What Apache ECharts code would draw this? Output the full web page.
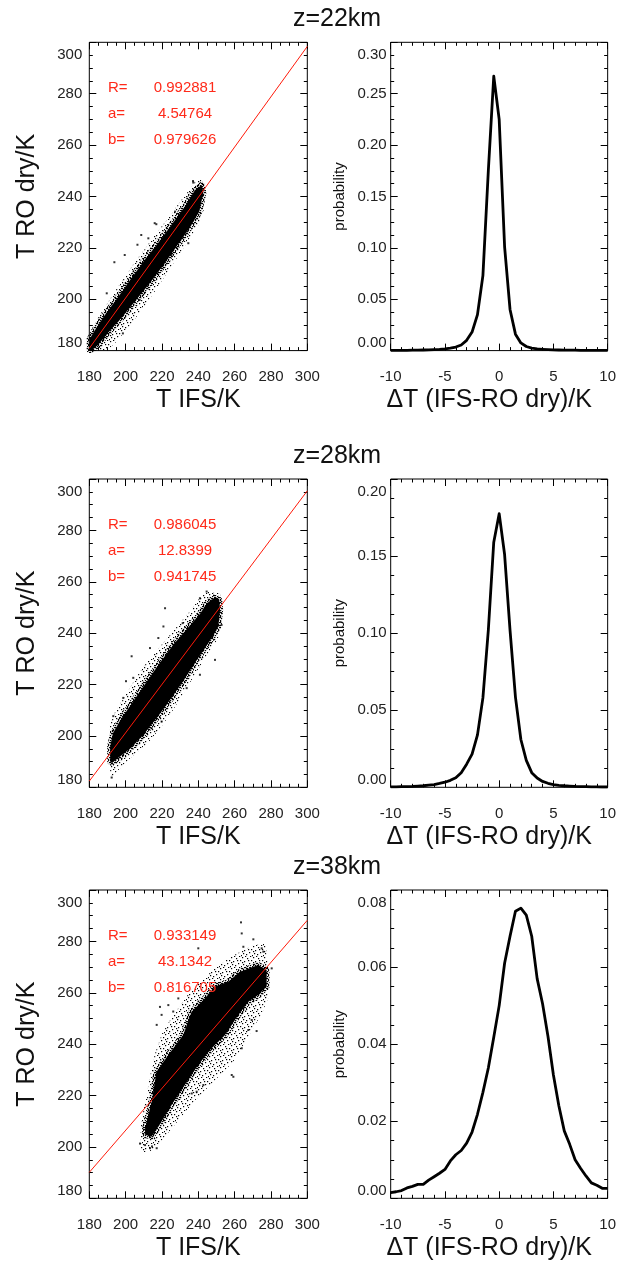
<!DOCTYPE html>
<html><head><meta charset="utf-8">
<script src="https://cdn.jsdelivr.net/npm/echarts@6/dist/echarts.min.js"></script>
<style>html,body{margin:0;padding:0;background:#fff}#c{width:619px;height:1272px}</style>
</head><body><div id="c"></div>
<script>
// ---------------- data ----------------
var heights = ['z=22km', 'z=28km', 'z=38km'];
var fitR = ['0.992881', '0.986045', '0.933149'];
var fitA = ['4.54764', '12.8399', '43.1342'];
var fitB = ['0.979626', '0.941745', '0.816705'];

// regression lines (endpoints)
var fitLine1 = [[180, 180.9], [300, 298.4]];
var fitLine2 = [[180, 182.4], [300, 295.4]];
var fitLine3 = [[180, 190.1], [300, 288.2]];

// dense core outlines of the scatter clouds  [T IFS, T RO dry]
var core1 = [[180.2,184.5],[184,189],[188.5,193.8],[195.8,200.8],[203.1,208.1],[210.5,215.3],[217.8,221.8],[225.2,228.9],[232.5,236],[238.2,242.5],[241.9,244.5],
             [242.8,241.5],[240.5,234],[235,227.5],[228,220.5],[220.5,213],[213,206],[205.5,199.5],[198,193],[190.5,187],[184.5,182],[181.5,180.2],[180.2,180.2]];
var halo1 = [[180.2,187],[185,193],[190,198.5],[195,204],[200,209],[205,214.5],[210,219],[215,224],[220,228.5],[225,233],[230,238],[235,242.5],[238,245.5],[241.5,246.5],
             [243.5,244],[243.5,236],[241,230],[236,224.5],[230,218],[223,210.5],[216,203],[209,196],[202,189.5],[195,183.5],[190,180.2],[180.2,180.2]];
var out1 = [[237.1,246.0],[216.9,229.2],[208.6,225.0],[206.5,221.2],[199.5,217.2],[193.8,214.4],[189.6,202.3],[198.5,186.7],[207.7,199.7],
            [223.3,219.6],[225.2,217.2],[234.5,221.8],[227.2,234.1],[212.5,223.7],[238.0,232.3],[220.6,213.3],[216.0,229.6],[237.2,245.4]];

var core2 = [[191.5,196],[193,201],[197,206],[204.2,213.5],[211.5,221],[218.9,228.5],[226.2,235.5],[233.6,241.5],[240.9,247.5],[244.6,251.5],[249.2,254],[251.5,253],
             [252,249],[251,242.5],[246.4,237],[239.1,229.5],[231.8,221.5],[224.4,214],[217.1,207],[209.8,200.5],[202.4,195],[196,191.5],[192.5,189.5],[191.5,190]];
var halo2 = [[191.5,186],[191.3,204],[194,209],[200,216],[206,223],[212,229],[218,234],[224,239],[230,244],[236,249],[241,254],[245,256],[251,256],[253,254],
             [253,244],[251,238],[246,233],[240,226],[233,218],[226,210],[219,203],[212,197],[205,193],[199,189],[195,186],[193,183]];
var out2 = [[221.7,249.7],[220.8,242.6],[218.0,238.1],[203.3,231.0],[204.2,222.6],[200.2,221.3],[193.2,207.7],[192.3,183.8],[244.6,256.2],
            [249.2,229.6],[240.9,223.8],[233.6,218.6],[219.8,205.6],[214.3,203.0],[240.9,253.6],[252.8,243.2],[198.7,214.8],[213.4,234.2],[231.4,243.9]];

var core3 = [[210.7,207.2],[214.3,217.6],[217.0,229.3],[223.5,235.8],[231.7,243.6],[236.3,252.6],[243.6,257.8],[249.2,262.4],[256.5,264.3],[262.9,268.2],[273.0,270.8],[277.6,268.9],
             [277.6,262.4],[273.0,259.1],[267.5,256.5],[262.0,251.3],[254.7,243.6],[247.3,238.4],[240.0,232.0],[232.7,224.2],[225.3,216.4],[219.8,209.9],[214.3,204.0],[210.7,204.7]];
var halo3 = [[208,200],[208.5,210],[211,218],[213,226],[216,236],[220,244],[225,250],[230,255],[236,261],[242,265],[250,270],[258,274],[266,277],[272,279],[277,279],
             [278.5,270],[278.5,258],[275,252],[270,246],[265,240],[259,233],[252,228],[245,223],[238,218],[231,212],[224,206],[218,201],[213,198],[209,198]];
var out3 = [[263.5,287.4],[263.9,283.1],[264.8,277.9],[274.9,277.3],[275.8,276.0],[280.4,269.5],[269.4,249.4],[267.5,245.5],[263.9,238.4],[258.4,228.0],
            [242.8,224.1],[239.1,221.5],[223.5,255.2],[219.8,251.4],[217.1,247.5],[226.2,252.7],[229.0,257.8],[210.7,200.7],[213.4,199.5],[217.1,199.5],
            [270.3,280.8],[240.0,277.3],[218.9,254.5],[259.3,227.3],[272.1,245.1],[207.9,201.3],[214.5,200.2],[236.4,220.8]];

// probability density of dT (IFS - RO dry)
var dT = [-10,-9.5,-9,-8.5,-8,-7.5,-7,-6.5,-6,-5.5,-5,-4.5,-4,-3.5,-3,-2.5,-2,-1.5,-1,-0.5,0,0.5,1,1.5,2,2.5,3,3.5,4,4.5,5,5.5,6,6.5,7,7.5,8,8.5,9,9.5,10];
var prob1 = [0.0002,0.0002,0.0003,0.0003,0.0004,0.0005,0.0006,0.0007,0.0009,0.0012,0.0017,0.0025,0.0035,0.0055,0.0100,0.0180,0.0350,0.0730,0.1750,0.2670,0.2250,0.1010,0.0400,0.0160,0.0075,0.0040,0.0025,0.0016,0.0012,0.0009,0.0007,0.0006,0.0005,0.0004,0.0004,0.0003,0.0003,0.0002,0.0002,0.0002,0.0002];
var prob2 = [0.0003,0.0003,0.0004,0.0005,0.0006,0.0008,0.0010,0.0014,0.0018,0.0025,0.0033,0.0045,0.0062,0.0095,0.0150,0.0215,0.0340,0.0580,0.1020,0.1590,0.1775,0.1510,0.1020,0.0585,0.0310,0.0175,0.0095,0.0060,0.0038,0.0026,0.0018,0.0013,0.0010,0.0008,0.0006,0.0005,0.0004,0.0003,0.0003,0.0002,0.0002];
var prob3 = [0.0015,0.0017,0.0020,0.0027,0.0031,0.0036,0.0036,0.0047,0.0056,0.0065,0.0075,0.0097,0.0113,0.0124,0.0143,0.0172,0.0218,0.0275,0.0338,0.0418,0.0500,0.0610,0.0680,0.0745,0.0753,0.0735,0.0680,0.0570,0.0505,0.0420,0.0320,0.0240,0.0175,0.0140,0.0100,0.0078,0.0058,0.0040,0.0034,0.0026,0.0026];
var probMax = [0.30, 0.20, 0.08];
var probStep = [0.05, 0.05, 0.02];

// ---------------- chart ----------------
var FONT = "'Liberation Sans', Arial, Helvetica, sans-serif";
var rowTop = [42.3, 479, 890];
var boxH = 308.3;
var leftL = 89.3, leftW = 218, rightL = 390.7, rightW = 218.3;

// speckle textures for the scatter-cloud fringes
function speckle(size, dots) {
  var c = document.createElement('canvas');
  c.width = size; c.height = size;
  var g = c.getContext('2d');
  g.fillStyle = '#000';
  dots.forEach(function (q) { g.fillRect(q[0], q[1], 1.2, 1.2); });
  return c;
}
var sparsePat = speckle(11, [[0,0],[5,1],[9,3],[2,4],[7,6],[4,8],[10,9],[1,7],[8,10],[6,3],[3,10],[0,5]]);
var densePat = speckle(5, [[0,0],[2,1],[4,2],[1,3],[3,4],[0,2],[3,0],[2,3]]);

var grids = [], xAxes = [], yAxes = [], series = [], graphic = [];

function tickCfg(len) { return { show: true, inside: true, length: len, lineStyle: { color: '#000', width: 1 } }; }
function minorCfg(n) { return { show: true, splitNumber: n, length: 3.5, lineStyle: { color: '#000', width: 1 } }; }

function addAxes(gi, xmin, xmax, xint, xminor, ymin, ymax, yint, yminor, ylabFmt, xName, xNamePad, yName, yNameSize, yNameGap, yLabMargin) {
  xAxes.push({ gridIndex: gi, type: 'value', position: 'bottom', min: xmin, max: xmax, interval: xint,
    axisLine: { show: false, onZero: false }, axisTick: tickCfg(7), minorTick: minorCfg(xminor), splitLine: { show: false },
    axisLabel: { fontSize: 15, color: '#222', fontFamily: FONT, margin: 19 },
    name: xName, nameLocation: 'middle', nameGap: 37,
    nameTextStyle: { fontSize: 25, color: '#111', fontFamily: FONT, padding: xNamePad } });
  xAxes.push({ gridIndex: gi, type: 'value', position: 'top', min: xmin, max: xmax, interval: xint,
    axisLine: { show: false, onZero: false }, axisTick: tickCfg(7), minorTick: minorCfg(xminor), splitLine: { show: false },
    axisLabel: { show: false } });
  yAxes.push({ gridIndex: gi, type: 'value', position: 'left', min: ymin, max: ymax, interval: yint,
    axisLine: { show: false, onZero: false }, axisTick: tickCfg(7), minorTick: minorCfg(yminor), splitLine: { show: false },
    axisLabel: { fontSize: 15, color: '#222', fontFamily: FONT, margin: yLabMargin, formatter: ylabFmt, padding: [5, 0, 0, 0],
      verticalAlignMaxLabel: 'top', verticalAlignMinLabel: 'bottom' },
    name: yName, nameLocation: 'middle', nameGap: yNameGap, nameRotate: 90,
    nameTextStyle: { fontSize: yNameSize, color: '#111', fontFamily: FONT } });
  yAxes.push({ gridIndex: gi, type: 'value', position: 'right', min: ymin, max: ymax, interval: yint,
    axisLine: { show: false, onZero: false }, axisTick: tickCfg(7), minorTick: minorCfg(yminor), splitLine: { show: false },
    axisLabel: { show: false } });
}

function polySeries(ai, pts, fill, stroke, lw) {
  return { type: 'custom', xAxisIndex: ai, yAxisIndex: ai, silent: true, animation: false, z: 2,
    data: pts, encode: { x: 0, y: 1 },
    renderItem: function (params, api) {
      if (params.dataIndex !== 0) return null;
      var p = pts.map(function (d) { return api.coord(d); });
      return { type: 'polygon', shape: { points: p },
        style: { fill: fill, stroke: stroke || null, lineWidth: lw || 0, lineJoin: 'round' } };
    } };
}

var cores = [core1, core2, core3], halos = [halo1, halo2, halo3], outs = [out1, out2, out3];
var fits = [fitLine1, fitLine2, fitLine3], probs = [prob1, prob2, prob3];

for (var r = 0; r < 3; r++) {
  var gL = 2 * r, gR = 2 * r + 1;
  grids.push({ left: leftL, top: rowTop[r], width: leftW, height: boxH, show: true, borderColor: '#000', borderWidth: 1, backgroundColor: 'transparent' });
  grids.push({ left: rightL, top: rowTop[r], width: rightW, height: boxH, show: true, borderColor: '#000', borderWidth: 1, backgroundColor: 'transparent' });

  addAxes(gL, 180, 300, 20, 4, 180, 300, 20, 4, null, 'T IFS/K', [0, 0, 0, 0], 'T RO dry/K', 25, 50, 7);
  addAxes(gR, -10, 10, 5, 5, 0, probMax[r], probStep[r], 4, function (v) { return v.toFixed(2); }, 'ΔT (IFS-RO dry)/K', [0, 20, 0, 0], 'probability', 15, 43, 4);

  var aiL = 2 * gL, aiR = 2 * gR;
  series.push(polySeries(aiL, halos[r], { image: sparsePat, repeat: 'repeat' }));
  series.push(polySeries(aiL, cores[r], '#000', { image: densePat, repeat: 'repeat' }, 6));
  series.push({ type: 'scatter', xAxisIndex: aiL, yAxisIndex: aiL, data: outs[r], symbol: 'rect', symbolSize: 2,
    itemStyle: { color: '#000' }, silent: true, animation: false, z: 3 });
  series.push({ type: 'line', xAxisIndex: aiL, yAxisIndex: aiL, data: fits[r], showSymbol: false, symbol: 'none',
    lineStyle: { color: '#ff1a0a', width: 1 }, silent: true, animation: false, z: 4 });

  var pd = dT.map(function (x, i) { return [x, probs[r][i]]; });
  series.push({ type: 'line', xAxisIndex: aiR, yAxisIndex: aiR, data: pd, showSymbol: false, symbol: 'none',
    lineStyle: { color: '#000', width: 2.8, join: 'round' }, silent: true, animation: false, z: 4 });

  var t = rowTop[r];
  graphic.push({ type: 'text', x: 337, y: t - 23, z: 100, style: { text: heights[r], fill: '#111', font: '25px ' + FONT, align: 'center', verticalAlign: 'middle' } });
  var labels = ['R=', 'a=', 'b='], vals = [fitR[r], fitA[r], fitB[r]], offs = [46, 72, 97.7];
  for (var k = 0; k < 3; k++) {
    graphic.push({ type: 'text', x: 108, y: t + offs[k], z: 100, style: { text: labels[k], fill: '#ff2a1a', font: '15px ' + FONT, align: 'left', verticalAlign: 'middle' } });
    graphic.push({ type: 'text', x: 185, y: t + offs[k], z: 100, style: { text: vals[k], fill: '#ff2a1a', font: '15px ' + FONT, align: 'center', verticalAlign: 'middle' } });
  }
}

var chart = echarts.init(document.getElementById('c'), null, { renderer: 'canvas' });
chart.setOption({
  backgroundColor: '#fff',
  animation: false,
  grid: grids, xAxis: xAxes, yAxis: yAxes, series: series, graphic: graphic
});
</script></body></html>
